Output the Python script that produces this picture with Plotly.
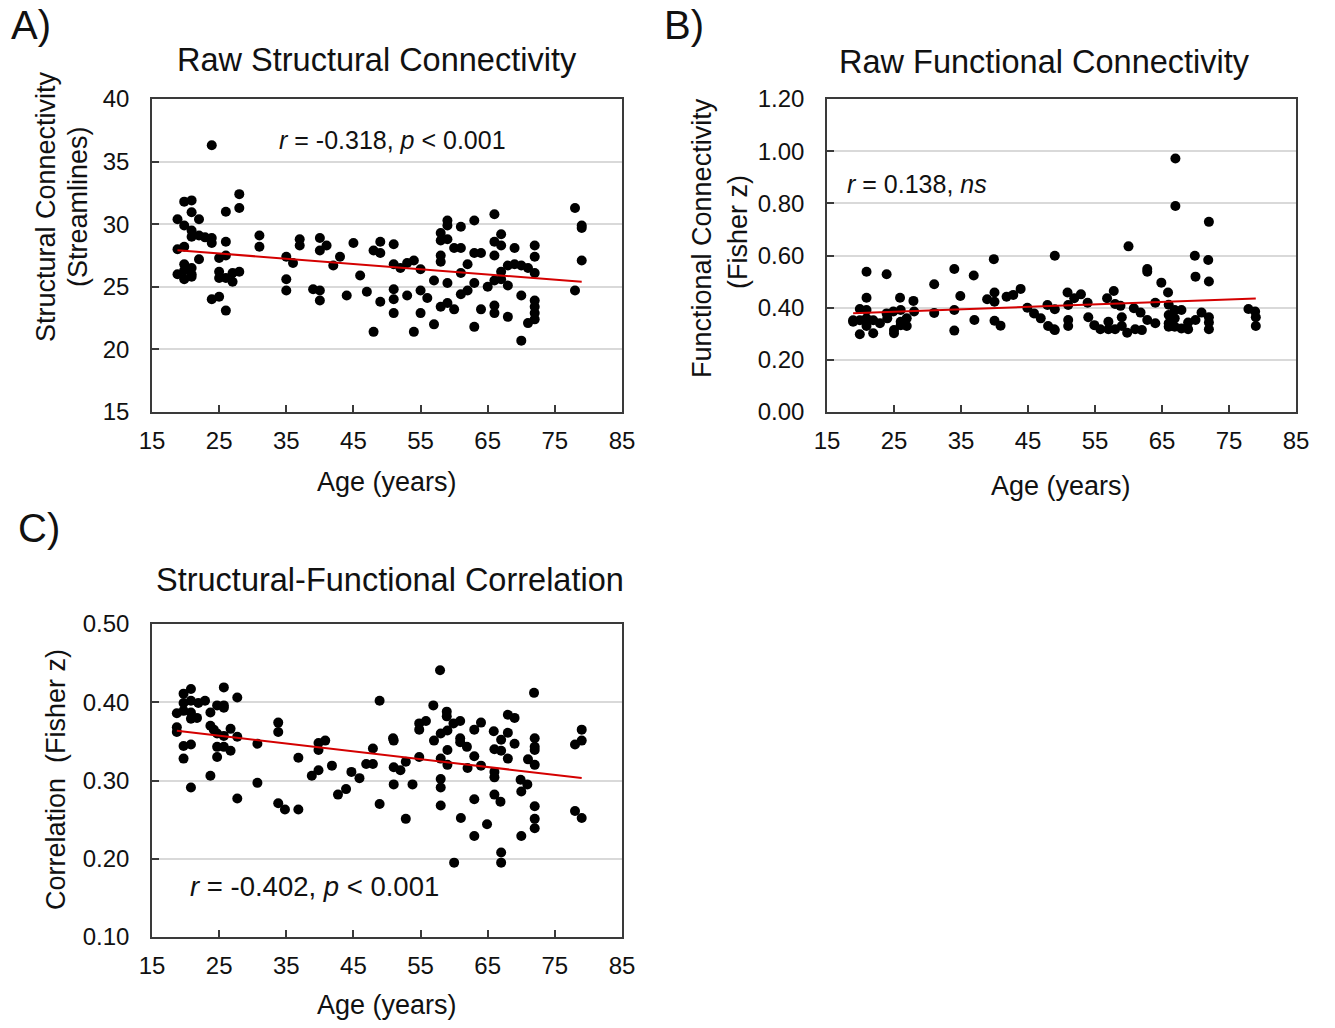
import numpy as np
import plotly.graph_objects as go

# ---------------- data ----------------
age_sc = [23.9, 18.8, 19.8, 20.9, 20.9, 22, 19.8, 20.9, 20.9, 22, 22.9, 23.9, 23.9, 18.8, 19.8, 22,
          19.8, 19.8, 20.9, 20.9, 19.8, 18.8, 20.9, 26, 28, 28, 26, 25, 26, 25, 25, 26, 27, 27, 28,
          23.9, 25, 26, 31, 31, 35, 36, 35, 35, 37, 37, 39, 40, 40, 40, 40, 41, 42, 43, 44, 45, 46,
          47, 48, 48, 49, 49, 49, 51, 51, 52, 53, 54, 55, 51, 51, 51, 53, 54, 55, 56, 55, 57, 57,
          58, 58, 58, 58, 59, 59, 59, 58, 59, 59, 60, 61, 61, 60, 61, 61, 62, 62, 63, 63, 64, 63,
          63, 64, 65, 66, 66, 66, 66, 66, 66, 67, 67, 67, 67, 68, 68, 68, 69, 69, 70, 70, 70, 71,
          71, 72, 72, 72, 72, 72, 72, 72, 78, 78, 79, 79, 79]
sc_vals = [36.3, 30.4, 31.8, 31.9, 30.95, 30.4, 29.9, 29.5, 29.0, 29.1, 28.95, 28.9, 28.5, 28.0,
           28.2, 27.2, 26.8, 26.3, 26.5, 26.0, 25.6, 26.0, 25.8, 31.0, 32.4, 31.3, 28.6, 27.3, 27.5,
           26.2, 25.7, 25.7, 25.4, 26.1, 26.2, 24.0, 24.2, 23.1, 29.1, 28.2, 27.4, 26.9, 25.6, 24.7,
           28.8, 28.3, 24.8, 24.7, 23.9, 28.9, 27.9, 28.3, 26.7, 27.4, 24.3, 28.5, 25.9, 24.6, 21.4,
           27.9, 28.6, 27.7, 23.8, 28.4, 26.8, 26.5, 26.9, 27.1, 26.4, 24.8, 24.0, 22.9, 24.3, 21.4,
           24.7, 24.1, 22.9, 25.5, 22.0, 29.3, 28.7, 27.5, 27.0, 30.3, 29.9, 28.8, 23.4, 23.7, 25.3,
           28.1, 28.1, 29.8, 23.2, 26.1, 24.4, 26.8, 24.7, 30.3, 27.7, 27.7, 25.3, 21.8, 23.2, 25.0,
           30.8, 28.6, 27.5, 25.5, 23.5, 22.9, 29.2, 28.3, 26.2, 25.6, 26.7, 25.1, 22.6, 28.1, 26.8,
           26.7, 24.3, 20.7, 26.5, 22.1, 28.3, 27.4, 26.1, 23.9, 23.4, 22.9, 22.4, 31.3, 24.7, 29.9,
           29.7, 27.1]

age_fc = [20.9, 23.9, 20.9, 19.9, 20.9, 18.9, 19.9, 20.9, 21.9, 22.9, 19.9, 21.9, 20.9, 18.9, 23.9,
          24, 24.9, 25, 25, 25.9, 26, 26, 26, 26.9, 26.9, 27.9, 28, 31, 31, 34, 34, 34, 34.9, 36.9,
          37, 39.9, 38.9, 40, 40, 40, 40.9, 41.8, 42.8, 43.9, 44.9, 45.9, 46.9, 47.9, 48, 48.9, 49,
          49, 49, 50.9, 51, 51, 51, 51.9, 52.9, 53.9, 54, 54.9, 55.8, 56.8, 57.8, 58, 57, 57, 58,
          58.8, 59, 59, 60, 59.8, 60.8, 61, 61.8, 62, 62.8, 62.8, 62.8, 64, 64, 64.9, 65.9, 66, 66,
          66, 66, 66.9, 66.9, 66.9, 67, 67, 67.9, 67.9, 68.9, 68.9, 69.9, 70, 70, 70.9, 71.9, 72,
          72, 72, 72, 72, 77.9, 78.9, 79, 79]
fc_vals = [0.538, 0.528, 0.438, 0.395, 0.391, 0.352, 0.352, 0.359, 0.352, 0.34, 0.298, 0.302, 0.33,
           0.346, 0.378, 0.359, 0.385, 0.314, 0.302, 0.438, 0.391, 0.346, 0.333, 0.359, 0.33, 0.426,
           0.385, 0.49, 0.38, 0.548, 0.391, 0.312, 0.445, 0.523, 0.353, 0.586, 0.432, 0.458, 0.423,
           0.35, 0.331, 0.442, 0.449, 0.472, 0.40, 0.378, 0.359, 0.41, 0.33, 0.317, 0.599, 0.394,
           0.314, 0.458, 0.41, 0.353, 0.33, 0.436, 0.451, 0.419, 0.363, 0.333, 0.317, 0.436, 0.464,
           0.414, 0.346, 0.317, 0.317, 0.407, 0.363, 0.33, 0.635, 0.304, 0.398, 0.317, 0.381, 0.314,
           0.353, 0.548, 0.538, 0.419, 0.34, 0.496, 0.458, 0.411, 0.372, 0.34, 0.327, 0.391, 0.359,
           0.327, 0.972, 0.79, 0.391, 0.32, 0.343, 0.317, 0.599, 0.519, 0.353, 0.381, 0.583, 0.50,
           0.729, 0.363, 0.343, 0.317, 0.395, 0.385, 0.363, 0.33]

age_sfc = [20.8, 19.7, 19.7, 20.8, 21.9, 22.9, 18.7, 19.7, 20.8, 20.8, 21.7, 18.7, 18.7, 19.7, 20.8,
           19.7, 20.8, 23.7, 23.7, 23.7, 24.7, 25.7, 25.7, 25.7, 24.2, 24.7, 25.7, 24.7, 25.7, 26.7,
           24.7, 26.7, 27.7, 27.7, 27.7, 30.7, 30.7, 33.8, 33.8, 33.8, 34.8, 36.8, 36.8, 38.8, 39.8,
           39.8, 39.8, 40.8, 41.8, 42.7, 43.9, 44.7, 45.9, 46.9, 47.9, 47.9, 48.9, 48.9, 50.9, 51,
           51, 52, 51, 52.8, 52.8, 53.8, 54.8, 54.8, 55.8, 54.8, 56.9, 57, 57.9, 58, 58, 58, 58, 58,
           58.9, 58.9, 59, 59, 59, 59.9, 60.9, 60.9, 60.9, 61.9, 61, 60, 63, 64, 63, 64, 63, 63, 62,
           64.9, 65.9, 66, 66, 66, 66, 66.9, 67, 67, 67, 67, 68, 69, 68, 69, 68, 69.9, 70.9, 70, 70,
           71, 71.9, 72, 72, 72, 72, 72, 72, 72, 78, 79, 79, 78, 79]
sfc_vals = [0.417, 0.411, 0.399, 0.402, 0.399, 0.402, 0.386, 0.389, 0.387, 0.379, 0.38, 0.368, 0.362,
            0.344, 0.346, 0.328, 0.291, 0.387, 0.37, 0.306, 0.396, 0.419, 0.396, 0.393, 0.365, 0.36,
            0.357, 0.343, 0.343, 0.338, 0.33, 0.366, 0.406, 0.356, 0.277, 0.347, 0.297, 0.374, 0.362,
            0.271, 0.263, 0.329, 0.263, 0.306, 0.313, 0.348, 0.339, 0.351, 0.319, 0.282, 0.289, 0.311,
            0.303, 0.321, 0.321, 0.341, 0.402, 0.27, 0.354, 0.351, 0.317, 0.313, 0.295, 0.324, 0.251,
            0.295, 0.373, 0.365, 0.376, 0.33, 0.396, 0.351, 0.441, 0.36, 0.328, 0.302, 0.291, 0.268,
            0.388, 0.382, 0.364, 0.339, 0.32, 0.373, 0.376, 0.354, 0.349, 0.343, 0.252, 0.195, 0.365,
            0.374, 0.331, 0.319, 0.276, 0.229, 0.316, 0.244, 0.363, 0.34, 0.311, 0.304, 0.282, 0.273,
            0.352, 0.338, 0.208, 0.195, 0.384, 0.38, 0.361, 0.347, 0.328, 0.301, 0.295, 0.286, 0.229,
            0.327, 0.412, 0.354, 0.343, 0.339, 0.32, 0.267, 0.251, 0.239, 0.346, 0.365, 0.351, 0.261,
            0.252]

x_ticks = [15, 25, 35, 45, 55, 65, 75, 85]
sc_ticks = [15, 20, 25, 30, 35, 40]
fc_ticks = [0.0, 0.2, 0.4, 0.6, 0.8, 1.0, 1.2]
sfc_ticks = [0.1, 0.2, 0.3, 0.4, 0.5]

panel_titles = ["Raw Structural Connectivity", "Raw Functional Connectivity",
                "Structural-Functional Correlation"]
stat_texts = ["<i>r</i> = -0.318, <i>p</i> &lt; 0.001", "<i>r</i> = 0.138, <i>ns</i>",
              "<i>r</i> = -0.402, <i>p</i> &lt; 0.001"]

# ---------------- layout helpers ----------------
W, H = 1335, 1028
FONT = "Arial, 'Liberation Sans', sans-serif"
AX_COL = "#3a3a3a"
GRID_COL = "#d9d9d9"
MARK_COL = "#000000"
LINE_COL = "#d40000"
TXT_COL = "#111111"


def px(x):
    return x / W


def py(y):
    return 1 - y / H


fig = go.Figure()

panels = [
    (age_sc, sc_vals, "x", "y"),
    (age_fc, fc_vals, "x2", "y2"),
    (age_sfc, sfc_vals, "x3", "y3"),
]
for ages, vals, xa, ya in panels:
    a = np.array(ages, dtype=float)
    v = np.array(vals, dtype=float)
    fig.add_trace(go.Scatter(x=a, y=v, mode="markers", xaxis=xa, yaxis=ya,
                             marker=dict(color=MARK_COL, size=10), showlegend=False,
                             hoverinfo="x+y"))
    slope, icpt = np.polyfit(a, v, 1)
    xl = np.array([a.min(), a.max()])
    fig.add_trace(go.Scatter(x=xl, y=slope * xl + icpt, mode="lines", xaxis=xa, yaxis=ya,
                             line=dict(color=LINE_COL, width=2), showlegend=False,
                             hoverinfo="skip"))


def xaxis_style(domain, anchor):
    return dict(domain=domain, anchor=anchor, range=[15, 85], tickvals=x_ticks,
                ticks="inside", ticklen=7, tickwidth=1.5, tickcolor=AX_COL,
                showline=True, linecolor=AX_COL, linewidth=1.6, mirror=True,
                showgrid=False, zeroline=False, ticklabelstandoff=6, automargin=False,
                tickfont=dict(family=FONT, size=24, color=TXT_COL))


def yaxis_style(domain, anchor, rng, ticks, fmt):
    return dict(domain=domain, anchor=anchor, range=rng, tickvals=ticks, tickformat=fmt,
                ticks="inside", ticklen=7, tickwidth=1.5, tickcolor=AX_COL,
                showline=True, linecolor=AX_COL, linewidth=1.6, mirror=True,
                showgrid=True, gridcolor=GRID_COL, gridwidth=1.5, zeroline=False,
                ticklabelstandoff=16, automargin=False,
                tickfont=dict(family=FONT, size=24, color=TXT_COL))


dom_xA = [px(152), px(622)]
dom_xB = [px(827), px(1296)]
dom_yAB = [py(412), py(99)]
dom_yC = [py(937), py(624)]

fig.update_layout(
    width=W, height=H, margin=dict(l=0, r=0, t=0, b=0, autoexpand=False),
    paper_bgcolor="white", plot_bgcolor="white",
    font=dict(family=FONT, color=TXT_COL),
    xaxis=xaxis_style(dom_xA, "y"),
    yaxis=yaxis_style(dom_yAB, "x", [15, 40], sc_ticks, "d"),
    xaxis2=xaxis_style(dom_xB, "y2"),
    yaxis2=yaxis_style(dom_yAB, "x2", [0, 1.2], fc_ticks, ".2f"),
    xaxis3=xaxis_style(dom_xA, "y3"),
    yaxis3=yaxis_style(dom_yC, "x3", [0.1, 0.5], sfc_ticks, ".2f"),
)

ann = []


def add_text(text, x, y, size, xanchor="center", angle=0):
    ann.append(dict(text=text, x=px(x), y=py(y), xref="paper", yref="paper",
                    xanchor=xanchor, yanchor="middle", showarrow=False, textangle=angle,
                    font=dict(family=FONT, size=size, color=TXT_COL)))


# panel letters
add_text("A)", 31, 25, 40)
add_text("B)", 684, 25, 40)
add_text("C)", 39, 528, 40)
# titles
add_text(panel_titles[0], 377, 60, 32.5)
add_text(panel_titles[1], 1044, 62, 32.5)
add_text(panel_titles[2], 390, 580, 32.5)
# stats
add_text(stat_texts[0], 392, 140, 25)
add_text(stat_texts[1], 845, 184, 25, xanchor="left")
add_text(stat_texts[2], 314, 886, 27.5)
# x titles
add_text("Age (years)", 387, 482, 27)
add_text("Age (years)", 1061, 486, 27)
add_text("Age (years)", 387, 1005, 27)
# y titles
add_text("Structural Connectivity", 46, 207, 27, angle=-90)
add_text("(Streamlines)", 78, 207, 27, angle=-90)
add_text("Functional Connectivity", 702, 238, 27, angle=-90)
add_text("(Fisher z)", 738, 232, 27, angle=-90)
add_text("Correlation&nbsp; (Fisher z)", 56, 780, 27, angle=-90)

fig.update_layout(annotations=ann)

post = (
    "document.body.style.margin='0px';"
    "var gd=document.getElementById('{plot_id}');"
    "gd.style.position='fixed';gd.style.left='0px';gd.style.top='0px';"
)

fig.write_html("out.html", config={"displayModeBar": False}, post_script=post)
